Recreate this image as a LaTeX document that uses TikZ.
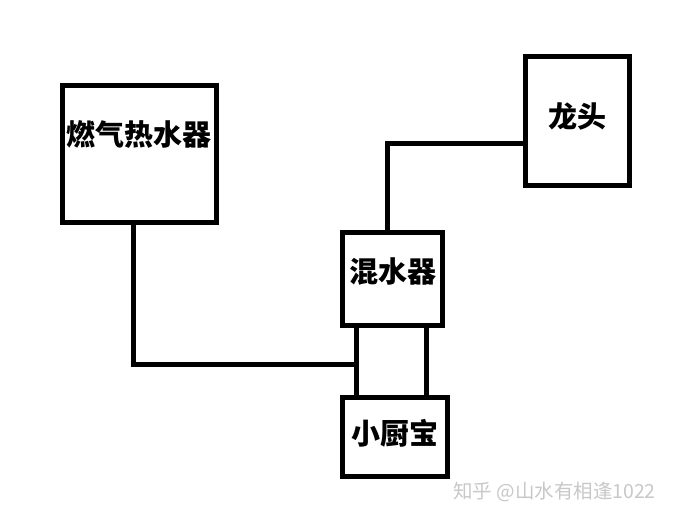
\documentclass[tikz,border=0pt]{standalone}
\usepackage{fontspec}
\newfontfamily\cjk{Noto Sans CJK SC}
\usetikzlibrary{positioning}
\definecolor{markgrey}{RGB}{200,200,200}
\tikzset{
  box/.style={
    draw,
    line width=5pt,
    align=center,
    font=\cjk\bfseries\fontsize{29}{33}\selectfont,
    inner sep=0pt
  },
  pipe/.style={draw, line width=5pt},
  watermark/.style={text=markgrey, font=\cjk\fontsize{19.5}{21}\selectfont, inner sep=0pt, anchor=west},
}

\begin{document}
\begin{tikzpicture}[x=1pt, y=-1pt]
\useasboundingbox[fill=white] (0,0) rectangle (684,520);

% Appliances
\node[box, minimum width=154pt, minimum height=137pt, text depth=40pt] (heater) at (139,153.5) {燃气热水器};
\node[box, minimum width=104pt, minimum height=129pt, text depth=12pt] (faucet) at (577.5,121) {龙头};
\node[box, minimum width=100pt, minimum height=93pt, text depth=18pt] (mixer) at (392.5,279) {混水器};
\node[box, minimum width=105pt, minimum height=79pt, text depth=10pt] (kitchen) at (395,437) {小厨宝};

% Pipes
\coordinate (tee) at (356,364);
\draw[pipe] ([xshift=-6pt]heater.south) |- (tee);
\draw[pipe] (mixer.south -| tee) -- ([yshift=-5pt]kitchen.north -| tee);
\draw[pipe] ([xshift=33.5pt]mixer.south) -- ([xshift=31pt]kitchen.north);
\draw[pipe] ([xshift=-5.5pt]mixer.north) |- ([yshift=-22pt]faucet.west);

\node[watermark] (mark) at (453,492) {知乎 @山水有相逢1022};

\end{tikzpicture}
\end{document}
